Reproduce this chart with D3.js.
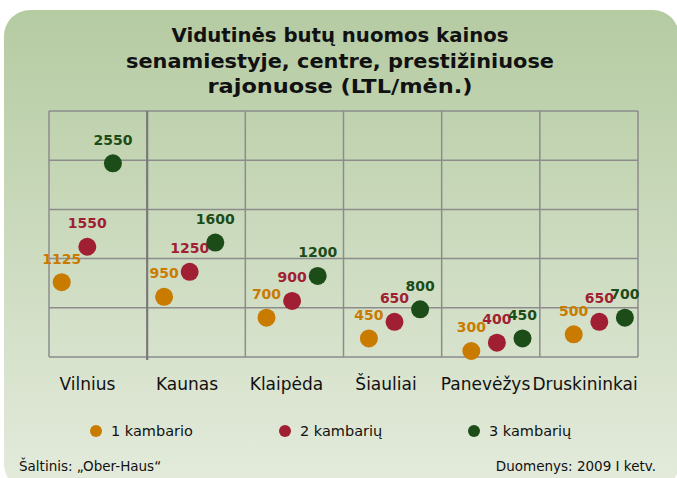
<!DOCTYPE html>
<meta charset="utf-8">
<style>
body { margin: 0; background: #fff; }
svg { display: block; }
.grid line { stroke: #8c8c8c; stroke-width: 1.5px; }
.cat { font-family: "DejaVu Sans", sans-serif; font-size: 17px; fill: #111; }
.val { font-family: "DejaVu Sans", sans-serif; font-size: 14px; font-weight: bold; }
.title { font-family: "DejaVu Sans", sans-serif; font-size: 20px; font-weight: bold; fill: #111; }
.legend text, .foot { font-family: "DejaVu Sans", sans-serif; font-size: 14.5px; fill: #111; }
.foot { font-size: 13.5px; }
</style>
<svg width="677" height="478"></svg>
<script src="https://cdn.jsdelivr.net/npm/d3@7"></script>
<script>
// city names (x categories)
var cities = ["Vilnius", "Kaunas", "Klaipėda", "Šiauliai", "Panevėžys", "Druskininkai"];
// series
var seriesNames = ["1 kambario", "2 kambarių", "3 kambarių"];
var seriesColors = ["#c97b00", "#a01f32", "#1c4c17"];
var oneRoom = [1125, 950, 700, 450, 300, 500];
var twoRoom = [1550, 1250, 900, 650, 400, 650];
var threeRoom = [2550, 1600, 1200, 800, 450, 700];
// hidden value axis bounds as in the original chart
var yMin = 228, yMax = 3178;

var titleLines = ["Vidutinės butų nuomos kainos", "senamiestyje, centre, prestižiniuose", "rajonuose (LTL/mėn.)"];
var titleWidths = [337, 428, 265];
var source = "Šaltinis: „Ober-Haus“";
var period = "Duomenys: 2009 I ketv.";

var svg = d3.select("svg");

// card background
var defs = svg.append("defs");
var grad = defs.append("linearGradient").attr("id", "bg")
  .attr("x1", 0).attr("y1", 0).attr("x2", 0).attr("y2", 1);
grad.append("stop").attr("offset", "0%").attr("stop-color", "#b5cba2");
grad.append("stop").attr("offset", "100%").attr("stop-color", "#e4ebdc");

svg.append("rect")
  .attr("x", 4).attr("y", 10)
  .attr("width", 675).attr("height", 480)
  .attr("rx", 26).attr("ry", 26)
  .attr("fill", "url(#bg)");

// title
svg.append("text").attr("class", "title")
  .attr("text-anchor", "middle")
  .selectAll("tspan")
  .data(titleLines)
  .enter().append("tspan")
    .attr("x", 340)
    .attr("y", function(d, i) { return 42 + i * 25.5; })
    .attr("textLength", function(d, i) { return titleWidths[i]; })
    .attr("lengthAdjust", "spacingAndGlyphs")
    .text(function(d) { return d; });

// plot area
var plotLeft = 49, plotRight = 638, plotTop = 111, plotBottom = 357;

var y = d3.scaleLinear().domain([yMin, yMax]).range([plotBottom, plotTop]);
var gridCols = d3.scaleLinear().domain([0, cities.length]).range([plotLeft, plotRight]);
var x = d3.scaleLinear().domain([0, cities.length - 1]).range([87.3, 599.3]);
var offset = d3.scalePoint().domain(seriesNames).range([-25.6, 25.6]);
var labelX = d3.scaleLinear().domain([0, cities.length - 1]).range([87.5, 585]);

var grid = svg.append("g").attr("class", "grid");
var yTicks = d3.range(6).map(function(i) { return yMin + i * (yMax - yMin) / 5; });
grid.selectAll(".h").data(yTicks).enter().append("line")
  .attr("x1", plotLeft).attr("x2", plotRight)
  .attr("y1", function(d) { return y(d); })
  .attr("y2", function(d) { return y(d); });

grid.selectAll(".v").data(d3.range(cities.length + 1)).enter().append("line")
  .attr("x1", function(d) { return gridCols(d); })
  .attr("x2", function(d) { return gridCols(d); })
  .attr("y1", plotTop)
  .attr("y2", function(d) { return d === 1 ? plotBottom + 3 : plotBottom; })
  .style("stroke-width", function(d) { return d === 1 ? 2.2 : 1.5; })
  .style("stroke", function(d) { return d === 1 ? "#7a7a7a" : null; });

// category labels
svg.append("g").selectAll("text")
  .data(cities)
  .enter().append("text")
    .attr("class", "cat")
    .attr("text-anchor", "middle")
    .attr("x", function(d, i) { return labelX(i); })
    .attr("y", 390)
    .text(function(d) { return d; });

// points
var series = [oneRoom, twoRoom, threeRoom];
series.forEach(function(vals, s) {
  var g = svg.append("g");
  var name = seriesNames[s];
  g.selectAll("circle").data(vals).enter().append("circle")
    .attr("cx", function(d, i) { return x(i) + offset(name); })
    .attr("cy", function(d) { return y(d); })
    .attr("r", 9)
    .attr("fill", seriesColors[s]);
  g.selectAll("text").data(vals).enter().append("text")
    .attr("class", "val")
    .attr("text-anchor", "middle")
    .attr("x", function(d, i) { return x(i) + offset(name); })
    .attr("y", function(d) { return y(d) - 18.5; })
    .attr("fill", seriesColors[s])
    .text(function(d) { return d; });
});

// legend
var legend = svg.append("g").attr("class", "legend")
  .selectAll("g").data(seriesNames).enter().append("g")
  .attr("transform", function(d, i) { return "translate(" + (96 + i * 189) + ",431)"; });
legend.append("circle").attr("r", 6)
  .attr("fill", function(d, i) { return seriesColors[i]; });
legend.append("text").attr("x", 15).attr("y", 5)
  .text(function(d) { return d; });

// footer
svg.append("text").attr("class", "foot").attr("x", 19).attr("y", 471).text(source);
svg.append("text").attr("class", "foot").attr("x", 656).attr("y", 471)
  .attr("text-anchor", "end").text(period);
</script>
